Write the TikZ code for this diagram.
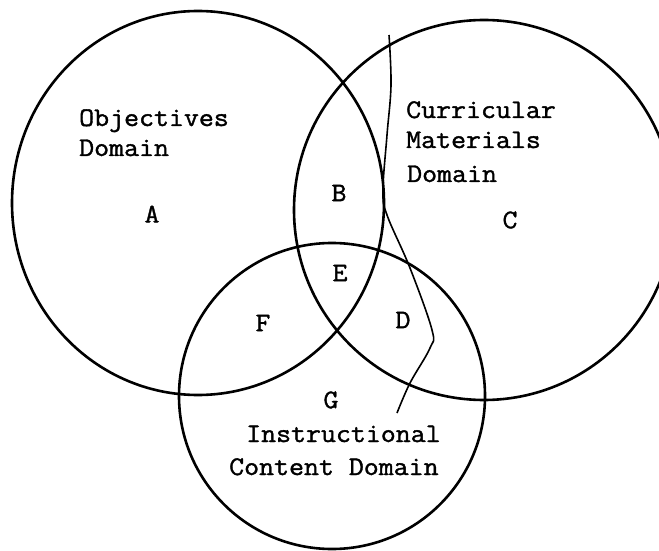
\documentclass[tikz,border=0pt]{standalone}
\usepackage{fontspec}
\newfontfamily\typewr{Latin Modern Mono}[FakeStretch=1.08, FakeBold=1.4]
\usetikzlibrary{positioning}
\tikzset{
  dombound/.style={draw=black, line width=2.6bp},
  crease/.style={draw=black, line width=1.6bp},
  lbl/.style={font=\typewr\fontsize{27}{32}\selectfont, inner sep=0pt, anchor=base west},
  reg/.style={font=\typewr\fontsize{27}{32}\selectfont, inner sep=0pt}
}

\begin{document}
\begin{tikzpicture}[x=1bp, y=-1bp]
  \useasboundingbox (0,0) rectangle (659,551);

  % the three domains
  \draw[dombound] (198,203) ellipse [x radius=186, y radius=192];
  \draw[dombound] (484,210) circle [radius=190];
  \draw[dombound] (332,396) circle [radius=153];
  \draw[crease] plot[smooth, tension=0.6] coordinates
    {(389,35) (391,85) (387,135) (383,190) (387,215) (410,268) (432,330) (430,348) (410,383) (397,413)};

  % domain names
  \node[lbl] (objT) at (79,126) {Objectives};
  \node[lbl] (objD) at (79,156) {Domain};
  \node[lbl] (curT) at (406,118) {Curricular};
  \node[lbl] (curM) at (406,148) {Materials};
  \node[lbl] (curD) at (407,182) {Domain};
  \node[lbl] (insT) at (246,442) {Instructional};
  \node[lbl] (insC) at (229,475) {Content Domain};

  % regions
  \node[reg] (rA) at (152,214) {A};
  \node[reg] (rB) at (339,193) {B};
  \node[reg] (rC) at (510,220) {C};
  \node[reg] (rD) at (403,320) {D};
  \node[reg] (rE) at (340,273) {E};
  \node[reg] (rF) at (263,323) {F};
  \node[reg] (rG) at (331,400) {G};
\end{tikzpicture}
\end{document}
